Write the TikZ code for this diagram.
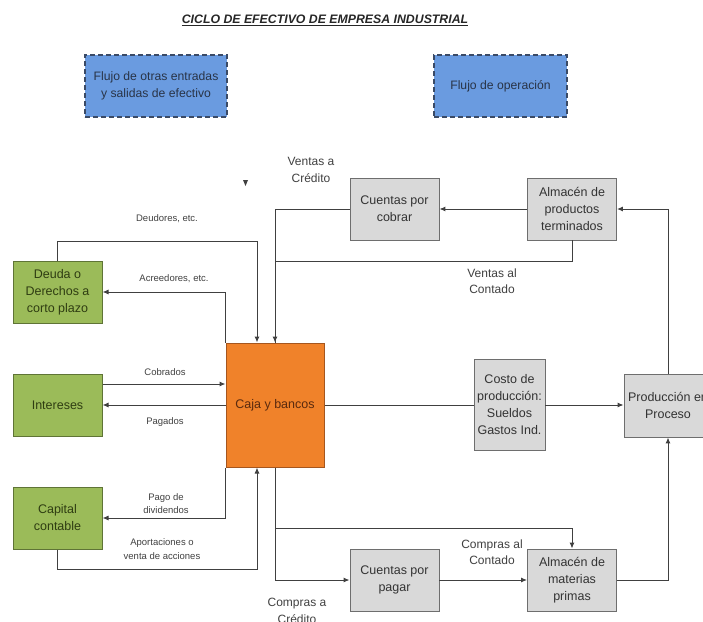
\documentclass[tikz,border=0pt]{standalone}
\usepackage{fontspec}
\setmainfont{Liberation Sans}
\usetikzlibrary{positioning, arrows.meta}
\definecolor{azul}{HTML}{6A9BE0}
\definecolor{azulborde}{HTML}{3A4A66}
\definecolor{verde}{HTML}{9BBB59}
\definecolor{verdeborde}{HTML}{5F7436}
\definecolor{verdetexto}{HTML}{2F3D12}
\definecolor{naranja}{HTML}{F0822A}
\definecolor{naranjaborde}{HTML}{A5561E}
\definecolor{cafetexto}{HTML}{5A2A0E}
\definecolor{gris}{HTML}{D9D9D9}
\definecolor{grisborde}{HTML}{6E6E6E}
\definecolor{trazo}{HTML}{404040}
\begin{document}
\begin{tikzpicture}[
  x=1pt, y=-1pt,
  node distance=113pt,
  titulo/.style={font=\fontsize{12.3}{14}\selectfont\bfseries\itshape, text=black!85},
  flujo/.style={rectangle, draw=azulborde, dash pattern=on 5pt off 3pt, line width=1.2pt, fill=azul, minimum height=62pt, font=\fontsize{12.2}{16.5}\selectfont, text=azulborde!70!black, align=center},
  cuenta/.style={rectangle, draw=verdeborde, line width=1pt, fill=verde, minimum width=89pt, minimum height=62pt, font=\fontsize{12.5}{17}\selectfont, text=verdetexto, align=center},
  efectivo/.style={rectangle, draw=naranjaborde, line width=1pt, fill=naranja, minimum width=98pt, minimum height=124pt, font=\fontsize{12.5}{17}\selectfont, text=cafetexto},
  etapa/.style={rectangle, draw=grisborde, line width=0.9pt, fill=gris, minimum width=89pt, minimum height=62pt, inner sep=1pt, font=\fontsize{12.5}{17}\selectfont, text=black!80, align=center},
  etiqueta/.style={font=\fontsize{9.5}{13.5}\selectfont, text=black!75, align=center},
  leyenda/.style={font=\fontsize{12}{16.5}\selectfont, text=black!75, align=center},
  linea/.style={draw=trazo, line width=1pt},
  arrow/.style={-{Latex[length=6pt,width=5pt]}, linea}
]
  \clip (0,0) rectangle (703,621);

  % Titulo
  \node[titulo] (titulo) at (325,20) {\underline{CICLO DE EFECTIVO DE EMPRESA INDUSTRIAL}};

  % Flujos (arriba)
  \node[flujo, minimum width=142pt] (otros) at (156,86) {Flujo de otras entradas\\y salidas de efectivo};
  \node[flujo, minimum width=133pt] (operacion) at (500.5,86) {Flujo de operación};

  % Cuentas (izquierda)
  \node[cuenta] (deuda) at (57.5,292) {Deuda o\\Derechos a\\corto plazo};
  \node[cuenta, below of=deuda] (intereses) {Intereses};
  \node[cuenta, below of=intereses] (capital) {Capital\\contable};

  % Caja (centro)
  \node[efectivo] (caja) at (275,405) {Caja y bancos};

  % Operacion (derecha)
  \node[etapa] (cobrar) at (394.5,209) {Cuentas por\\cobrar};
  \node[etapa, right of=cobrar, node distance=177.5pt] (terminados) {Almacén de\\productos\\terminados};
  \node[etapa, minimum width=71pt, minimum height=91pt] (costo) at (509.5,405) {Costo de\\producción:\\Sueldos\\Gastos Ind.};
  \node[etapa, minimum width=88pt, minimum height=63pt] (produccion) at (668,405.5) {Producción en\\Proceso};
  \node[etapa] (pagar) at (394.5,580) {Cuentas por\\pagar};
  \node[etapa, right of=pagar, node distance=177.5pt] (materias) {Almacén de\\materias\\primas};

  % Etiquetas
  \node[etiqueta] (deudores) at (167,219) {Deudores, etc.};
  \node[etiqueta] (acreedores) at (174,279) {Acreedores, etc.};
  \node[etiqueta] (cobrados) at (165,372) {Cobrados};
  \node[etiqueta] (pagados) at (165,422) {Pagados};
  \node[etiqueta] (dividendos) at (166,503.5) {Pago de\\dividendos};
  \node[etiqueta] (aportaciones) at (162,549) {Aportaciones o\\venta de acciones};
  \node[leyenda] (ventascredito) at (311,170) {Ventas a\\Crédito};
  \node[leyenda] (ventascontado) at (492,281) {Ventas al\\Contado};
  \node[leyenda] (comprascontado) at (492,552) {Compras al\\Contado};
  \node[leyenda] (comprascredito) at (297,611) {Compras a\\Crédito};

  % Flechas
  \fill[trazo] (243,180) -- (248,180) -- (245.5,186) -- cycle;
  \draw[arrow] (deuda.north) -- ++(0,-19) -| ([xshift=-18pt]caja.north);
  \draw[arrow] (caja.north west) |- (deuda.east);
  \draw[arrow] ([yshift=21pt]intereses.east) -- ([yshift=21pt]caja.west);
  \draw[arrow] (caja.west) -- (intereses.east);
  \draw[arrow] (caja.south west) |- (capital.east);
  \draw[arrow] (capital.south) -- ++(0,20) -| ([xshift=-18pt]caja.south);
  \draw[arrow] (terminados) -- (cobrar);
  \draw[arrow] (cobrar.west) -| (caja.north);
  \draw[linea] (terminados.south) -- ++(0,21) -| (caja.north);
  \draw[arrow] (produccion.north) |- (terminados.east);
  \draw[linea] (caja.east) -- (costo.west);
  \draw[arrow] (costo.east) -- (costo.east -| produccion.west);
  \draw[arrow] (caja.south) |- (pagar.west);
  \draw[arrow] ([yshift=-61pt]caja.south) -| (materias.north);
  \draw[arrow] (pagar) -- (materias);
  \draw[arrow] (materias.east) -| (produccion.south);

\end{tikzpicture}
\end{document}
